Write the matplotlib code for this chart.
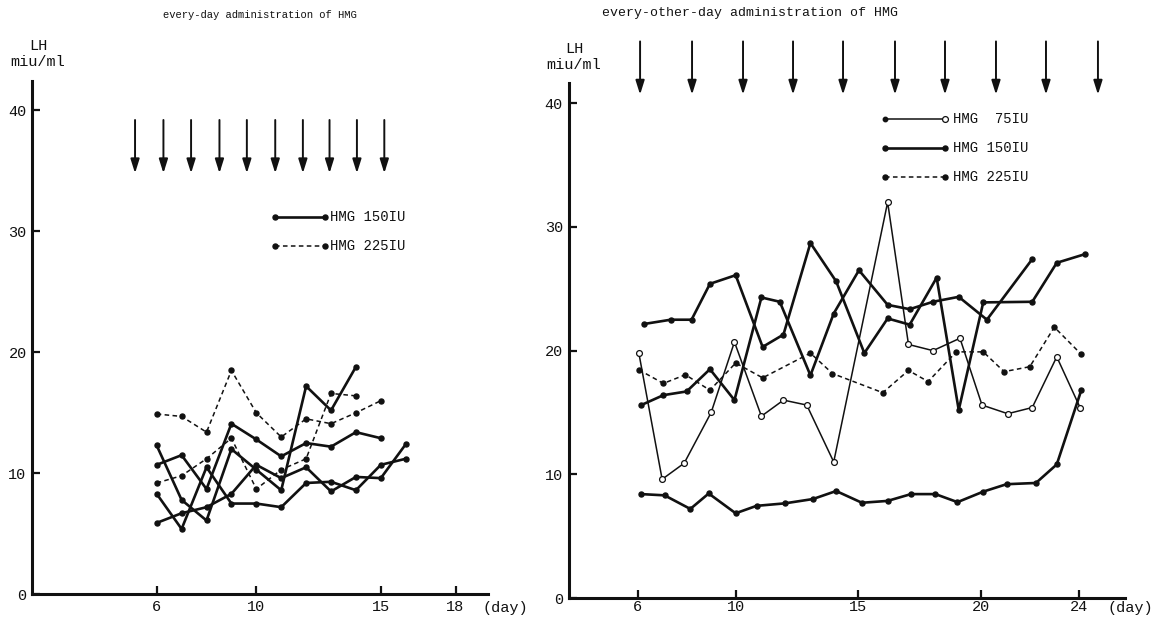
import matplotlib
matplotlib.use('Agg')
import matplotlib.pyplot as plt

plt.rcParams['font.family'] = ['Liberation Mono', 'DejaVu Sans Mono']

W, H, DPI = 1164, 620, 100

# ---------------- data: left panel (every-day administration) ----------------
left_days = [6, 7, 8, 9, 10, 11, 12, 13, 14, 15, 16]
left_150_a = [12.3, 7.8, 6.1, 12.0, 10.3, 8.6, 17.2, 15.2, 18.8]
left_150_b = [10.7, 11.5, 8.7, 14.1, 12.8, 11.4, 12.5, 12.2, 13.4, 12.9]
left_150_c = [5.9, 6.7, 7.2, 8.3, 10.7, 9.6, 10.5, 8.5, 9.7, 9.6, 12.4]
left_150_d = [8.3, 5.4, 10.5, 7.5, 7.5, 7.2, 9.2, 9.3, 8.6, 10.7, 11.2]
left_225_a = [14.9, 14.7, 13.4, 18.5, 15.0, 13.0, 14.5, 14.1, 15.0, 16.0]
left_225_b = [9.2, 9.8, 11.2, 12.9, 8.7, 10.3, 11.2, 16.6, 16.4]
left_admin_days = [5.13, 6.27, 7.38, 8.52, 9.62, 10.76, 11.87, 12.94, 14.04, 15.14]
left_xticks = [6, 10, 15, 18]
yticks = [0, 10, 20, 30, 40]

# ---------------- data: right panel (every-other-day administration) ----------------
r75_days = [6.05, 7.0, 7.9, 9.0, 9.95, 11.05, 11.95, 12.9, 14.0, 16.2, 17.05, 18.05,
            19.15, 20.05, 21.1, 22.1, 23.1, 24.05]
r75_vals = [19.8, 9.6, 10.9, 15.0, 20.7, 14.7, 16.0, 15.6, 11.0, 32.0, 20.5, 20.0,
            21.0, 15.6, 14.9, 15.4, 19.5, 15.4]

r150a_days = [6.25, 7.35, 8.2, 8.95, 10.0, 11.1, 11.95, 13.05, 14.1, 15.25, 16.2, 17.1,
              18.2, 19.1, 20.1, 22.1, 23.1, 24.25]
r150a_vals = [22.15, 22.5, 22.5, 25.4, 26.1, 20.3, 21.3, 28.7, 25.6, 19.8, 22.6, 22.1,
              25.9, 15.2, 23.9, 23.95, 27.1, 27.8]

r150b_days = [6.15, 7.05, 8.0, 8.95, 9.95, 11.05, 11.8, 13.05, 14.0, 15.03, 16.2, 17.1,
              18.05, 19.1, 20.25, 22.1]
r150b_vals = [15.6, 16.4, 16.7, 18.5, 16.0, 24.3, 23.95, 18.0, 23.0, 26.5, 23.7, 23.35,
              23.95, 24.35, 22.5, 27.4]

r150c_days = [6.15, 7.1, 8.15, 8.9, 10.0, 10.85, 12.0, 13.15, 14.1, 15.15, 16.2, 17.15,
              18.15, 19.05, 20.1, 21.05, 22.25, 23.1, 24.1]
r150c_vals = [8.4, 8.3, 7.2, 8.45, 6.85, 7.45, 7.65, 8.0, 8.65, 7.7, 7.85, 8.4,
              8.4, 7.75, 8.6, 9.2, 9.3, 10.8, 16.8]

r225_days = [6.05, 7.05, 7.95, 8.95, 10.0, 11.1, 13.05, 13.95, 16.0, 17.05, 17.85, 19.0,
             20.1, 20.95, 22.0, 23.0, 24.1]
r225_vals = [18.45, 17.35, 18.05, 16.8, 19.0, 17.8, 19.8, 18.15, 16.6, 18.4, 17.5, 19.9,
             19.9, 18.3, 18.7, 21.9, 19.7]

right_admin_days = [6.1, 8.22, 10.3, 12.34, 14.38, 16.5, 18.54, 20.62, 22.66, 24.78]
right_xticks = [6, 10, 15, 20, 24]

# ---------------- styles ----------------
K = '#111111'
S150 = dict(color=K, lw=1.9, ls='-', marker='o', ms=3.6, mfc=K, mec=K)
S225 = dict(color=K, lw=1.1, ls=(0, (3.0, 2.2)), marker='o', ms=3.6, mfc=K, mec=K)
S75 = dict(color=K, lw=1.1, ls='-', marker='o', ms=4.2, mfc='white', mec=K, mew=0.9)
TICKFS = 11


def px_axes(fig, x0, x1, ybot, ytop):
    return fig.add_axes([x0 / W, (H - ybot) / H, (x1 - x0) / W, (ybot - ytop) / H])


def style_axes(ax, spine_top, xpad, ypad):
    for s in ('top', 'right'):
        ax.spines[s].set_visible(False)
    for s in ('left', 'bottom'):
        ax.spines[s].set_linewidth(2.2)
        ax.spines[s].set_color(K)
    ax.spines['left'].set_bounds(0, spine_top)
    ax.tick_params(axis='both', direction='in', length=6, width=1.6, color=K,
                   labelsize=TICKFS, labelcolor=K)
    ax.tick_params(axis='x', pad=xpad)
    ax.tick_params(axis='y', pad=ypad)
    ax.set_yticks(yticks)
    ax.patch.set_alpha(0)


def arrows(ax, days, top, tip):
    for d in days:
        ax.annotate('', xy=(d, tip), xytext=(d, top), annotation_clip=False,
                    arrowprops=dict(arrowstyle='-|>,head_length=0.7,head_width=0.22',
                                    mutation_scale=12, lw=1.4, color=K,
                                    shrinkA=0, shrinkB=0))


fig = plt.figure(figsize=(W / DPI, H / DPI), dpi=DPI)

# ---------------- left panel ----------------
axL = px_axes(fig, 32.2, 487.9, 594.3, 80.05)
axL.set_xlim(1.0, 19.3)
axL.set_ylim(0, 42.5)
style_axes(axL, 42.4, 4, 4)
axL.set_xticks(left_xticks)

for vals in (left_150_a, left_150_b, left_150_c, left_150_d):
    axL.plot(left_days[:len(vals)], vals, **S150, zorder=3)
for vals in (left_225_a, left_225_b):
    axL.plot(left_days[:len(vals)], vals, **S225, zorder=2)

arrows(axL, left_admin_days, 39.2, 34.8)

# legend (left)
axL.plot([10.75, 12.76], [31.2, 31.2], **S150, clip_on=False)
axL.text(12.96, 31.2, 'HMG 150IU', fontsize=10, va='center', ha='left', color=K)
axL.plot([10.75, 12.76], [28.8, 28.8], **S225, clip_on=False)
axL.text(12.96, 28.8, 'HMG 225IU', fontsize=10, va='center', ha='left', color=K)

# ---------------- right panel ----------------
axR = px_axes(fig, 568.5, 1125.4, 598.0, 34.0)
axR.set_xlim(3.18, 25.9)
axR.set_ylim(0, 45.6)
style_axes(axR, 41.6, 1.5, 4)
axR.set_xticks(right_xticks)

axR.plot(r75_days, r75_vals, **S75, zorder=3)
axR.plot(r150a_days, r150a_vals, **S150, zorder=3)
axR.plot(r150b_days, r150b_vals, **S150, zorder=3)
axR.plot(r150c_days, r150c_vals, **S150, zorder=3)
axR.plot(r225_days, r225_vals, **S225, zorder=2)

arrows(axR, right_admin_days, 45.0, 40.7)

# legend (right)
lx0, lx1, ltx = 16.09, 18.54, 18.85
axR.plot([lx0, lx1], [38.7, 38.7], color=K, lw=1.1, zorder=4)
axR.plot([lx0], [38.7], marker='o', ms=3.2, color=K, zorder=5)
axR.plot([lx1], [38.7], marker='o', ms=4.2, mfc='white', mec=K, mew=0.9, zorder=5)
axR.text(ltx, 38.7, 'HMG  75IU', fontsize=10, va='center', ha='left', color=K)
axR.plot([lx0, lx1], [36.35, 36.35], **S150, zorder=4)
axR.text(ltx, 36.35, 'HMG 150IU', fontsize=10, va='center', ha='left', color=K)
axR.plot([lx0, lx1], [34.0, 34.0], **S225, zorder=4)
axR.text(ltx, 34.0, 'HMG 225IU', fontsize=10, va='center', ha='left', color=K)

# ---------------- titles and axis labels ----------------
def ftext(x, y, s, **kw):
    fig.text(x / W, 1 - y / H, s, color=K, **kw)

ftext(260, 15, 'every-day administration of HMG', fontsize=7.6, ha='center', va='center')
ftext(750, 13, 'every-other-day administration of HMG', fontsize=9.5, ha='center', va='center')
ftext(38, 54, 'LH\nmiu/ml', fontsize=11, ha='center', va='center', linespacing=1.25,
      multialignment='center')
ftext(574, 57, 'LH\nmiu/ml', fontsize=11, ha='center', va='center', linespacing=1.25,
      multialignment='center')
ftext(482, 608, '(day)', fontsize=11, ha='left', va='center')
ftext(1107, 608, '(day)', fontsize=11, ha='left', va='center')

fig.savefig('out.png', dpi=DPI, facecolor='white')
